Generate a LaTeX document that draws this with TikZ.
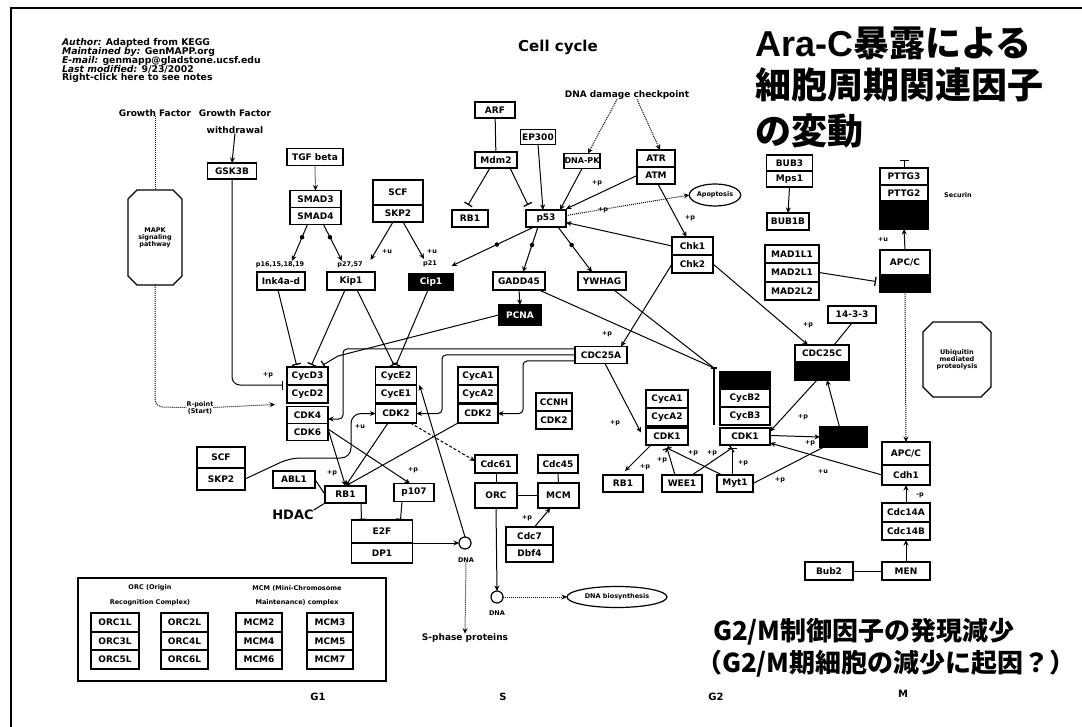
\documentclass[tikz,border=0pt]{standalone}
\usepackage{fontspec}
\setmainfont{DejaVu Sans}
\newfontfamily\cjk{Noto Sans CJK JP}
\newfontfamily\arialx{Liberation Sans}
\usetikzlibrary{arrows.meta,calc,shapes.geometric}
\pgfdeclarelayer{back}
\pgfdeclarelayer{bg}
\pgfsetlayers{back,bg,main}
\newcommand\gnbox[6]{\node[gene,minimum width=#4pt,minimum height=#5pt] (#1) at (#2,#3) {#6};}
\newcommand\bkbox[6]{\node[blk,minimum width=#4pt,minimum height=#5pt] (#1) at (#2,#3) {#6};}
\begin{document}
\begin{tikzpicture}[x=1pt,y=-1pt,
 every node/.style={inner sep=0pt,outer sep=0pt},
 gene/.style={draw,line width=1.3pt,fill=white,font=\fontsize{9}{10}\selectfont\bfseries},
 blk/.style={draw,line width=1.3pt,fill=black,text=white,font=\fontsize{9}{10}\selectfont\bfseries},
 lbl/.style={font=\fontsize{6.5}{7}\selectfont\bfseries},
 txt/.style={font=\fontsize{9}{10}\selectfont\bfseries},
 hdr/.style={font=\fontsize{9.3}{10}\selectfont\bfseries,anchor=west},
 conn/.style={line width=1pt},
 act/.style={conn,-{Stealth[length=5.5pt,width=5pt]}},
 inh/.style={conn,-{Bar[width=9pt,line width=1.3pt]}},
 dotl/.style={conn,densely dotted},
 dota/.style={conn,densely dotted,-{Stealth[length=5.5pt,width=5pt]}},
 dasha/.style={conn,densely dashed,-{Stealth[length=5.5pt,width=5pt]}},
 edot/.style={circle,fill,minimum size=4.5pt},
 jp/.style={font=\cjk\bfseries\fontsize{36}{40}\selectfont,anchor=base west},
 jps/.style={font=\cjk\bfseries\fontsize{26}{30}\selectfont,anchor=base west},
 phase/.style={font=\fontsize{10}{11}\selectfont\bfseries},
 circ/.style={draw,circle,line width=1.2pt,minimum size=12pt,fill=white},
 ell/.style={draw,ellipse,line width=1.2pt,fill=white,font=\fontsize{6.5}{7}\selectfont\bfseries}
]
\useasboundingbox (0,0) rectangle (1082,727);
\begin{pgfonlayer}{back}
\fill[white] (0,0) rectangle (1082,727);
\end{pgfonlayer}
\draw[line width=2.5pt] (11,727) -- (11,8) -- (1082,8);

% ---------- header texts
\node[hdr] (t1) at (62,43) {\textit{Author:} Adapted from KEGG};
\node[hdr] (t2) at (62,52) {\textit{Maintained by:} GenMAPP.org};
\node[hdr] (t3) at (62,61) {\textit{E-mail:} genmapp@gladstone.ucsf.edu};
\node[hdr] (t4) at (62,69) {\textit{Last modified:} 9/23/2002};
\node[hdr] (t5) at (62,78) {Right-click here to see notes};
\node[font=\fontsize{15}{16}\selectfont\bfseries] (title) at (558,47) {Cell cycle};
\node[jp] (j1) at (755,57) {{\arialx Ara-C}暴露による};
\node[jp] (j2) at (755,99) {細胞周期関連因子};
\node[jp] (j3) at (755,145) {の変動};
\node[jps] (c1) at (713,640) {G2/M制御因子の発現減少};
\node[jps] (c2) at (696,672) {（G2/M期細胞の減少に起因？）};

\node[txt] (gf) at (155,113) {Growth Factor};
\node[txt] (gfw1) at (235,113) {Growth Factor};
\node[txt] (gfw2) at (235,130) {withdrawal};
\node[txt] (dmg) at (627,95) {DNA damage checkpoint};

% ---------- MAPK octagon
\draw[line width=1.3pt,fill=white] (128,199) -- (137,190) -- (173,190) -- (182,199) -- (182,276) -- (173,285) -- (137,285) -- (128,276) -- cycle;
\node[lbl,align=center,minimum width=54pt,minimum height=95pt] (mapk) at (155,237.5) {MAPK\\signaling\\pathway};
% ---------- Ubiquitin octagon
\draw[line width=1.3pt,fill=white] (923,332) -- (933,322) -- (981,322) -- (991,332) -- (991,387) -- (981,397) -- (933,397) -- (923,387) -- cycle;
\node[lbl,align=center,minimum width=68pt,minimum height=75pt] (ubq) at (957,359.5) {Ubiquitin\\mediated\\proteolysis};
\node[lbl] (securin) at (958,195) {Securin};

% ---------- gene boxes
\gnbox{gsk}{232}{171}{49}{16}{GSK3B}
\gnbox{tgf}{315}{157}{56}{17}{TGF beta}
\gnbox{smad3}{315.5}{199}{51}{17}{SMAD3}
\gnbox{smad4}{315.5}{216}{51}{17}{SMAD4}
\gnbox{scf1}{398}{192.5}{50}{25}{SCF}
\gnbox{skp21}{398}{213.5}{50}{17}{SKP2}
\gnbox{ink}{281}{281}{48}{18}{Ink4a-d}
\gnbox{kip}{351}{281}{48}{18}{Kip1}
\bkbox{cip}{431}{282}{45}{16}{Cip1}
\gnbox{arf}{495}{110}{40}{16}{ARF}
\gnbox{mdm2}{496}{160}{42}{16}{Mdm2}
\gnbox{ep300}{538}{137}{35}{15}{EP300}
\node[gene,minimum width=36pt,minimum height=15pt,font=\fontsize{8}{9}\selectfont\bfseries] (dnapk) at (582,161) {DNA-PK};
\gnbox{atr}{656}{158.5}{38}{17}{ATR}
\gnbox{atm}{656}{175.5}{38}{17}{ATM}
\gnbox{rb1a}{470}{218.5}{36}{17}{RB1}
\gnbox{p53}{546}{218.5}{40}{17}{p53}
\node[ell,minimum width=48pt,minimum height=22pt] (apop) at (715,195) {Apoptosis};
\gnbox{chk1}{692.5}{246}{41}{18}{Chk1}
\gnbox{chk2}{692.5}{264}{41}{18}{Chk2}
\gnbox{gadd}{519}{281}{52}{18}{GADD45}
\gnbox{ywhag}{602}{281}{48}{18}{YWHAG}
\bkbox{pcna}{520}{315}{43}{20}{PCNA}
\gnbox{cdc25a}{601}{355}{52}{17}{CDC25A}
\gnbox{cycd3}{307.5}{376}{41}{18}{CycD3}
\gnbox{cycd2}{307.5}{394}{41}{18}{CycD2}
\gnbox{cdk4}{307.5}{415}{41}{17}{CDK4}
\gnbox{cdk6}{307.5}{432}{41}{17}{CDK6}
\gnbox{cyce2}{396}{376}{41}{18}{CycE2}
\gnbox{cyce1}{396}{394}{41}{18}{CycE1}
\gnbox{cdk2e}{396}{413.5}{41}{19}{CDK2}
\gnbox{cyca1}{478}{376}{40}{18}{CycA1}
\gnbox{cyca2}{478}{394}{40}{18}{CycA2}
\gnbox{cdk2a}{478}{413.5}{40}{19}{CDK2}
\gnbox{ccnh}{554}{402}{36}{18}{CCNH}
\gnbox{cdk2h}{554}{420}{36}{18}{CDK2}
\gnbox{cyca1b}{667}{399}{42}{18}{CycA1}
\gnbox{cyca2b}{667}{417}{42}{18}{CycA2}
\gnbox{cdk1a}{667}{436.5}{42}{17}{CDK1}
\bkbox{cycb1}{745}{380.5}{50}{17}{}
\gnbox{cycb2}{745}{398}{50}{18}{CycB2}
\gnbox{cycb3}{745}{416}{50}{18}{CycB3}
\gnbox{cdk1b}{745}{436.5}{50}{17}{CDK1}
\gnbox{cdc25c}{822}{353.5}{54}{17}{CDC25C}
\bkbox{cdc25b}{822}{371}{54}{18}{}
\gnbox{f1433}{852}{314.5}{48}{17}{14-3-3}
\bkbox{plk}{843.5}{437}{47}{20}{}
\gnbox{rb1c}{623}{483.5}{40}{17}{RB1}
\gnbox{wee1}{682}{483.5}{40}{17}{WEE1}
\gnbox{myt1}{735}{483.5}{36}{17}{Myt1}
\gnbox{bub3}{789.5}{163}{46}{16}{BUB3}
\gnbox{mps1}{789.5}{179}{46}{16}{Mps1}
\gnbox{bub1b}{788}{221.5}{42}{17}{BUB1B}
\gnbox{mad1}{792}{254}{54}{18}{MAD1L1}
\gnbox{mad2l1}{792}{272.5}{54}{19}{MAD2L1}
\gnbox{mad2l2}{792}{291}{54}{18}{MAD2L2}
\gnbox{pttg3}{904}{176.5}{48}{17}{PTTG3}
\gnbox{pttg2}{904}{193}{48}{16}{PTTG2}
\bkbox{pttg1}{904}{215}{48}{28}{}
\gnbox{apcu}{905}{262.5}{50}{25}{APC/C}
\bkbox{cdc20}{905}{283.5}{50}{17}{}
\gnbox{apcl}{906}{453.5}{48}{23}{APC/C}
\gnbox{cdh1}{906}{475}{48}{20}{Cdh1}
\gnbox{cdc14a}{906}{512.5}{48}{19}{Cdc14A}
\gnbox{cdc14b}{906}{531}{48}{18}{Cdc14B}
\gnbox{men}{906}{571}{48}{18}{MEN}
\gnbox{bub2}{829}{571}{48}{18}{Bub2}
\gnbox{scf2}{221}{457.5}{48}{21}{SCF}
\gnbox{skp22}{221}{479}{48}{22}{SKP2}
\gnbox{abl1}{294}{479.5}{42}{17}{ABL1}
\gnbox{rb1b}{345.5}{494.5}{41}{17}{RB1}
\gnbox{p107}{414}{492.5}{40}{18}{p107}
\gnbox{e2f}{382}{531.5}{61}{23}{E2F}
\gnbox{dp1}{382}{553}{61}{20}{DP1}
\node[circ] (dna1) at (465,543) {};
\node[lbl] (dnal1) at (466,560) {DNA};
\gnbox{cdc6}{496}{464}{42}{18}{Cdc61}
\gnbox{cdc45}{558}{464}{40}{18}{Cdc45}
\gnbox{orc}{496}{495.5}{42}{25}{ORC}
\gnbox{mcm}{558.5}{495.5}{41}{25}{MCM}
\gnbox{cdc7}{529.5}{536}{47}{18}{Cdc7}
\gnbox{dbf4}{529.5}{553.5}{47}{17}{Dbf4}
\node[circ] (dna2) at (497,597) {};
\node[lbl] (dnal2) at (497,613) {DNA};
\node[ell,minimum width=100pt,minimum height=21pt] (dnab) at (617,597) {DNA biosynthesis};
\node[txt] (sphase) at (465,638) {S-phase proteins};
\node[font=\fontsize{13}{14}\selectfont\bfseries] (hdac) at (293,515) {HDAC};
\node[lbl,align=center] (rp) at (200,407.5) {R-point\\(Start)};

% small labels
\node[lbl] (lp16) at (280,265) {p16,15,18,19};
\node[lbl] (lp27) at (350,265) {p27,57};
\node[lbl] (lp21) at (430,264) {p21};
\foreach \x/\y/\t in {387/252/+u,432/252/+u,268/375/+p,597/183/+p,603/210/+p,690/218/+p,607/334/+p,808/325/+p,615/423/+p,803/417/+p,810/443/+p,693/453/+p,712/453/+p,662/460/+p,645/467/+p,743/463/+p,780/480/+p,823/472/+u,360/427/+u,332/473/+p,413/470/+p,883/240/+u,920/495/-p,527/518/+p}
  \node[lbl] at (\x,\y) {\t};

% legend
\node[draw,line width=1.3pt,minimum width=308pt,minimum height=103pt] (legend) at (232,629.5) {};
\node[lbl] (lg1) at (150,588) {ORC (Origin};
\node[lbl] (lg2) at (150,603) {Recognition Complex)};
\node[lbl] (lg3) at (297,588) {MCM (Mini-Chromosome};
\node[lbl] (lg4) at (297,603) {Maintenance) complex};
\gnbox{o1}{115}{622.5}{48}{19}{ORC1L}
\gnbox{o3}{115}{641}{48}{18}{ORC3L}
\gnbox{o5}{115}{659.5}{48}{19}{ORC5L}
\gnbox{o2}{184.5}{622.5}{47}{19}{ORC2L}
\gnbox{o4}{184.5}{641}{47}{18}{ORC4L}
\gnbox{o6}{184.5}{659.5}{47}{19}{ORC6L}
\gnbox{m2}{259}{622.5}{46}{19}{MCM2}
\gnbox{m4}{259}{641}{46}{18}{MCM4}
\gnbox{m6}{259}{659.5}{46}{19}{MCM6}
\gnbox{m3}{330}{622.5}{46}{19}{MCM3}
\gnbox{m5}{330}{641}{46}{18}{MCM5}
\gnbox{m7}{330}{659.5}{46}{19}{MCM7}

% phases
\node[phase] (g1) at (318,697) {G1};
\node[phase] (s) at (503,697) {S};
\node[phase] (g2) at (716,697) {G2};
\node[phase] (m) at (903,694) {M};

\coordinate (cbbar) at ($(cycb1.north west)+(-6,-4)$);
\coordinate (wa) at ($(cdk1a.south)+(0,3)$);
\coordinate (wb) at ($(cdk1b.south west)+(12,3)$);

\begin{pgfonlayer}{bg}
\draw[dotl] (gf.south) -- (mapk.north);
\draw[dotl,rounded corners=8] (mapk.south) -- (155,407) -- (rp.west);
\draw[dota] (rp.east) -- ($(cdk4.north west)+(-12,-2)$);
\draw[act] (gfw2.south) -- (gsk.north);
\draw[inh,rounded corners=8] (gsk.south) |- ($(cycd3.south west)+(-4,0)$);
\draw[dota] (tgf.south) -- (smad3.north);
\draw[act] ($(smad4.south)+(-8,0)$) -- node[edot,pos=0.35]{} ($(lp16.north)+(12,-1)$);
\draw[act] ($(smad4.south)+(8,0)$) -- node[edot,pos=0.35]{} ($(lp27.north)+(-8,-1)$);
\draw[act] ($(skp21.south)+(-5,0)$) -- ($(lp27.north east)+(8,-2)$);
\draw[act] ($(skp21.south)+(5,0)$) -- ($(lp21.north)+(-6,-2)$);
\draw[act] ($(p53.south west)+(8,0)$) -- node[edot,pos=0.45]{} ($(cip.north east)+(-2,-8)$);
\draw[act] ($(p53.south)+(-8,0)$) -- node[edot,pos=0.4]{} ($(gadd.north)+(4,0)$);
\draw[act] ($(p53.south east)+(-8,0)$) -- node[edot,pos=0.4]{} ($(ywhag.north)+(-10,0)$);
\draw[conn] (arf) -- (mdm2);
\draw[inh] ($(mdm2.south)+(-6,0)$) -- ($(rb1a.north)+(-2,-5)$);
\draw[inh] ($(mdm2.south)+(14,0)$) -- ($(p53.north west)+(2,-5)$);
\draw[act] (ep300.south) -- ($(p53.north)+(-3,0)$);
\draw[act] (dnapk.south) -- ($(p53.north east)+(-6,0)$);
\draw[act] (atm.west) -- ($(p53.north east)+(0,-1)$);
\draw[dota] ($(dmg.south)+(-10,0)$) -- ($(dnapk.north)+(6,0)$);
\draw[dota] ($(dmg.south)+(10,0)$) -- ($(atr.north)+(4,0)$);
\draw[dota] ($(p53.east)+(0,-3)$) -- (apop.west);
\draw[act] ($(atm.south)+(2,0)$) -- ($(chk1.north)+(-6,0)$);
\draw[act] (chk1.west) -- ($(p53.east)+(0,4)$);
\draw[act] (chk2.west) -- ($(cdc25a.north)+(20,0)$);
\draw[act] (chk2.east) -- ($(cdc25c.north west)+(13,0)$);
\draw[act] (gadd.south) -- (pcna.north);
\draw[conn] ($(gadd.south east)+(-6,0)$) -- (cbbar);
\draw[conn] ($(ywhag.south east)+(-12,0)$) -- (cbbar);
\draw[line width=1.4pt] ($(cbbar)+(-3,0)$) -- ($(cbbar)+(3,0)$);
\draw[line width=1.3pt] (cbbar) -- ($(cycb3.south west)+(-6,0)$);
\draw[inh] (pcna.west) -- (338,356) -- ($(cycd3.north east)+(-5,-2)$);
\draw[inh] ($(ink.south)+(-3,0)$) -- ($(cycd3.north)+(-11,-2)$);
\draw[inh] ($(kip.south)+(-6,0)$) -- ($(cycd3.north)+(4,-2)$);
\draw[inh] ($(kip.south)+(6,0)$) -- ($(cyce2.north)+(-2,-2)$);
\draw[inh] ($(cip.south)+(-3,0)$) -- ($(cyce2.north)+(0,-2)$);
\draw[act,rounded corners=4] ($(cdc25a.west)+(0,-6)$) -- (343,349) -- (343,419) -- ($(cdk4.east)+(0,4)$);
\draw[act,rounded corners=4] (cdc25a.west) -- (442,355) -- (442,413.5) -- (cdk2e.east);
\draw[act,rounded corners=4] ($(cdc25a.west)+(0,6)$) -- (523,361) -- (523,413.5) -- (cdk2a.east);
\draw[act] ($(cdc25a.south)+(4,0)$) -- ($(cdk1a.west)+(-5,-4)$);
\draw[act] ($(cdk1a.south west)+(5,0)$) -- ($(rb1c.north)+(2,-4)$);
\draw[inh] ($(wee1.north)+(-7,0)$) -- (wa);
\draw[inh] ($(wee1.north)+(10,0)$) -- (wb);
\draw[inh] ($(myt1.north)+(-13,0)$) -- (wa);
\draw[inh] ($(myt1.north)+(-3,0)$) -- (wb);
\draw[act] ($(cdc25b.south)+(-5,0)$) -- ($(cdk1b.east)+(0,-5)$);
\draw[act] ($(cdk1b.east)+(0,-1)$) -- (plk.west);
\draw[act] ($(plk.north)+(-4,0)$) -- ($(cdc25b.south)+(5,0)$);
\draw[conn] ($(plk.south west)+(4,0)$) -- (myt1.east);
\draw[act] (cdh1.west) -- ($(cdk1b.south east)+(0,-2)$);
\draw[conn] (f1433.south) -- ($(cdc25c.north)+(12,0)$);
\draw[act] (mps1.south) -- (bub1b.north);
\draw[inh] (mad2l1.east) -- ($(cdc20.west)+(-4,-2)$);
\draw[act] (apcu.north) -- (pttg1.south);
\draw[inh] (pttg3.north) -- ($(pttg3.north)+(0,-8)$);
\draw[dota] (cdc20.south) -- (apcl.north);
\draw[act] (cdc14a.north) -- (cdh1.south);
\draw[act] (men.north) -- (cdc14b.south);
\draw[inh] (bub2.east) -- (men.west);
\draw[act,rounded corners=10] (skp22.east) -- (290,458) -- (351,458) -- (351,413.5) -- (cdk2e.west);
\draw[conn] (abl1.east) -- (rb1b.west);
\draw[conn] (hdac.north east) -- (rb1b.south west);
\draw[act] ($(cdk6.east)+(0,-3)$) -- (rb1b.north);
\draw[act] ($(cdk6.east)+(0,-3)$) -- ($(p107.north)+(-4,0)$);
\draw[act] ($(cdk2e.south)+(-8,0)$) -- (rb1b.north);
\draw[act] (cdk2a.south west) -- (rb1b.north);
\draw[inh] ($(rb1b.south east)+(-5,0)$) -- ($(e2f.north west)+(10,0)$);
\draw[inh] ($(p107.south)+(-12,0)$) -- ($(e2f.north east)+(-12,0)$);
\draw[act] (e2f.south east) -- (dna1.west);
\draw[act] (dna1.north) -- ($(cyce2.south east)+(3,0)$);
\draw[dota] (dnal1.south) -- (sphase.north);
\draw[dasha] ($(cdk2e.south east)+(-6,0)$) -- ($(cdc6.west)+(0,-3)$);
\draw[conn] (cdc6) -- (orc);
\draw[conn] (cdc45) -- (mcm);
\draw[conn] (orc) -- (mcm);
\draw[act] ($(cdc7.north)+(5,0)$) -- ($(mcm.south)+(-8,0)$);
\draw[act] (orc.south) -- (dna2.north);
\draw[dota] (dna2.east) -- (dnab.west);
\end{pgfonlayer}
\end{tikzpicture}
\end{document}
